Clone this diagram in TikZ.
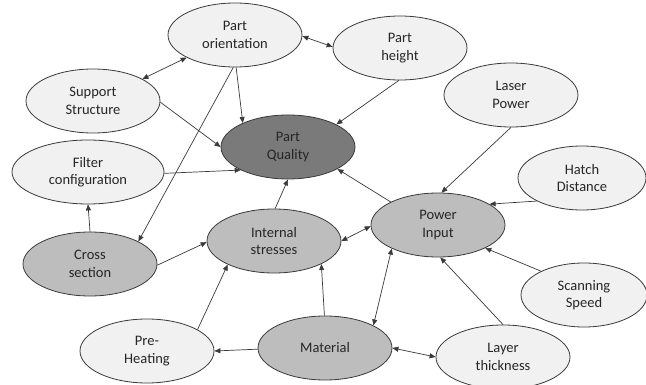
\documentclass[tikz,border=0pt]{standalone}
\usepackage{fontspec}
\setmainfont{Carlito}
\usetikzlibrary{shapes.geometric,arrows.meta}
\definecolor{lightfill}{HTML}{F1F1F1}
\definecolor{midfill}{HTML}{BDBDBD}
\definecolor{darkfill}{HTML}{7A7A7A}
\definecolor{edgecol}{HTML}{3A3A3A}
\definecolor{textcol}{HTML}{262626}
\begin{document}
\begin{tikzpicture}[x=1pt,y=-1pt,
  factor/.style={ellipse, draw=edgecol, line width=0.8pt, inner sep=0pt,
    minimum width=134pt, minimum height=64pt, align=center,
    text=textcol, font=\fontsize{14.5}{17.5}\selectfont},
  light/.style={factor, fill=lightfill},
  mid/.style={factor, fill=midfill},
  dark/.style={factor, fill=darkfill},
  link/.style={draw=edgecol, line width=0.7pt, -{Triangle[length=6pt,width=5pt]}},
  both/.style={draw=edgecol, line width=0.7pt, {Triangle[length=6pt,width=5pt]}-{Triangle[length=6pt,width=5pt]}}
]
\fill[white] (0,0) rectangle (646,385);
\useasboundingbox (0,0) rectangle (646,385);

% factors
\node[light] (po) at (235,35)  {Part\\orientation};
\node[light] (ph) at (400,48)  {Part\\height};
\node[light] (ss) at (93,101)  {Support\\Structure};
\node[dark]  (pq) at (288,147) {Part\\Quality};
\node[light, minimum width=152pt] (fc) at (88,172) {Filter\\configuration};
\node[light] (lp) at (511,95)  {Laser\\Power};
\node[light, minimum width=128pt] (hd) at (582,178) {Hatch\\Distance};
\node[mid]   (cs) at (90,264)  {Cross\\section};
\node[mid]   (is) at (274,241) {Internal\\stresses};
\node[mid]   (pi) at (438,225) {Power\\Input};
\node[light, minimum width=126pt] (sp) at (584,295) {Scanning\\Speed};
\node[light] (pr) at (147,351) {Pre-\\Heating};
\node[mid]   (ma) at (325,348) {Material};
\node[light] (lt) at (503,357) {Layer\\thickness};

% influences
\draw[both] (po.-155.4) -- (ss.24.7);
\draw[both] (po.-1.7) -- (ph.179);
\draw[link] (po.-88) -- (pq.152.4);
\draw[link] (po.-93.5) -- (cs.25.6);
\draw[link] (ss.-1) -- (pq.180);
\draw[link] (fc.-1) -- (pq.-154.4);
\draw[link] (ph.-92) -- (pq.25.2);
\draw[link] (lp.-90) -- (pi.84.6);
\draw[link] (pi.154.9) -- (pq.-24.7);
\draw[link] (hd.-153.4) -- (pi.22.8);
\draw[link] (sp.151.9) -- (pi.-26.6);
\draw[link] (lt.90) -- (pi.-86.5);
\draw[both] (pi.-153) -- (ma.25.6);
\draw[both] (pi.181.7) -- (is.0.8);
\draw[both] (ma.-0.9) -- (lt.180);
\draw[link] (ma.91.8) -- (is.-26.6);
\draw[link] (pr.23.6) -- (is.-153.9);
\draw[link] (ma.-179) -- (pr.-0.8);
\draw[link] (cs.90) -- (fc.-90);
\draw[link] (cs.-1) -- (is.181);
\draw[link] (is.88) -- (pq.-90);
\end{tikzpicture}
\end{document}
